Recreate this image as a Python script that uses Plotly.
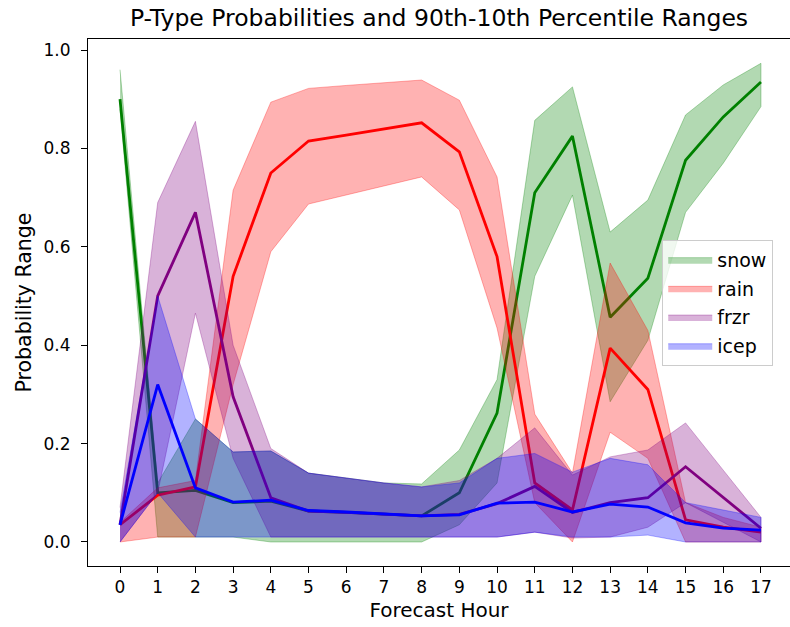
import plotly.graph_objects as go

# Forecast hours
hours = list(range(18))

# Mean probabilities per precipitation type
snow_mean = [0.90, 0.10, 0.105, 0.08, 0.083, 0.063, 0.06, 0.056, 0.053, 0.10, 0.262, 0.71, 0.825, 0.457, 0.536, 0.776, 0.864, 0.935]
rain_mean = [0.035, 0.095, 0.112, 0.54, 0.75, 0.815, 0.827, 0.84, 0.852, 0.793, 0.58, 0.12, 0.065, 0.394, 0.31, 0.045, 0.03, 0.02]
frzr_mean = [0.035, 0.50, 0.67, 0.295, 0.09, 0.063, 0.06, 0.056, 0.053, 0.056, 0.078, 0.113, 0.06, 0.08, 0.09, 0.153, 0.09, 0.028]
icep_mean = [0.035, 0.32, 0.11, 0.081, 0.085, 0.064, 0.061, 0.057, 0.053, 0.055, 0.079, 0.081, 0.061, 0.077, 0.071, 0.039, 0.028, 0.024]

# 90th percentile
snow_p90 = [0.96, 0.12, 0.25, 0.183, 0.185, 0.14, 0.13, 0.12, 0.118, 0.187, 0.33, 0.857, 0.925, 0.63, 0.695, 0.868, 0.929, 0.973]
rain_p90 = [0.04, 0.11, 0.125, 0.715, 0.894, 0.922, 0.928, 0.934, 0.939, 0.898, 0.742, 0.26, 0.14, 0.567, 0.43, 0.08, 0.05, 0.03]
frzr_p90 = [0.07, 0.69, 0.855, 0.40, 0.19, 0.14, 0.13, 0.12, 0.112, 0.125, 0.17, 0.232, 0.136, 0.173, 0.187, 0.242, 0.146, 0.05]
icep_p90 = [0.06, 0.50, 0.25, 0.183, 0.185, 0.14, 0.13, 0.12, 0.112, 0.12, 0.17, 0.18, 0.142, 0.17, 0.157, 0.08, 0.065, 0.05]

# 10th percentile
snow_p10 = [0.88, 0.01, 0.01, 0.01, 0.0, 0.0, 0.0, 0.0, 0.0, 0.035, 0.12, 0.54, 0.705, 0.285, 0.41, 0.67, 0.77, 0.885]
rain_p10 = [0.0, 0.01, 0.01, 0.32, 0.59, 0.687, 0.705, 0.724, 0.742, 0.675, 0.435, 0.08, 0.0, 0.223, 0.17, 0.0, 0.0, 0.0]
frzr_p10 = [0.0, 0.10, 0.465, 0.17, 0.01, 0.01, 0.01, 0.01, 0.01, 0.01, 0.01, 0.02, 0.008, 0.01, 0.03, 0.08, 0.04, 0.0]
icep_p10 = [0.0, 0.10, 0.01, 0.01, 0.01, 0.01, 0.01, 0.01, 0.01, 0.01, 0.01, 0.02, 0.01, 0.01, 0.014, 0.0, 0.0, 0.0]

series = [
    ("snow", snow_mean, snow_p90, snow_p10, "0,128,0"),
    ("rain", rain_mean, rain_p90, rain_p10, "255,0,0"),
    ("frzr", frzr_mean, frzr_p90, frzr_p10, "128,0,128"),
    ("icep", icep_mean, icep_p90, icep_p10, "0,0,255"),
]

FONT = "DejaVu Sans"
fig = go.Figure()

for name, mean, hi, lo, rgb in series:
    # shaded 10th-90th percentile range
    fig.add_trace(go.Scatter(
        x=hours + hours[::-1],
        y=hi + lo[::-1],
        fill="toself",
        fillcolor=f"rgba({rgb},0.3)",
        mode="lines",
        line=dict(color=f"rgba({rgb},0.3)", width=1),
        name=name,
        legendgroup=name,
        hoverinfo="skip",
    ))
    # mean probability line
    fig.add_trace(go.Scatter(
        x=hours, y=mean, mode="lines",
        line=dict(color=f"rgb({rgb})", width=2.8),
        legendgroup=name,
        showlegend=False,
    ))

fig.update_layout(
    width=790, height=627,
    margin=dict(l=88, r=0, t=39, b=61),
    paper_bgcolor="white", plot_bgcolor="white",
    font=dict(family=FONT, color="black", size=17),
    title=dict(text="P-Type Probabilities and 90th-10th Percentile Ranges",
               x=0.5, xanchor="center", xref="paper", y=0.971, yanchor="middle",
               font=dict(size=23.5, family=FONT)),
    legend=dict(x=0.818, y=0.619, xanchor="left", yanchor="top",
                bgcolor="rgba(255,255,255,0.8)", bordercolor="#cccccc", borderwidth=1,
                font=dict(size=19, family=FONT), itemwidth=44, tracegroupgap=1),
    showlegend=True,
)

fig.update_xaxes(
    range=[-0.849, 17.77], tickmode="array", tickvals=hours,
    ticktext=[str(h) for h in hours],
    showgrid=False, zeroline=False,
    showline=True, linecolor="black", linewidth=1, mirror=True,
    ticks="outside", ticklen=6, tickcolor="black",
    title=dict(text="Forecast Hour", font=dict(size=20, family=FONT), standoff=6),
)
fig.update_yaxes(
    range=[-0.0488, 1.0224], tickmode="array",
    tickvals=[0.0, 0.2, 0.4, 0.6, 0.8, 1.0],
    ticktext=["0.0", "0.2", "0.4", "0.6", "0.8", "1.0"],
    showgrid=False, zeroline=False,
    showline=True, linecolor="black", linewidth=1,
    ticks="outside", ticklen=6, tickcolor="black", ticklabelstandoff=7,
    title=dict(text="Probability Range", font=dict(size=20.5, family=FONT), standoff=6),
)

fig.write_html("out.html")
